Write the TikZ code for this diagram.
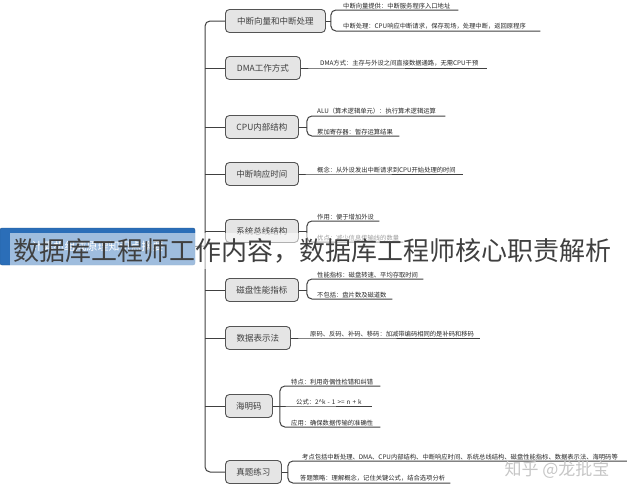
\documentclass[tikz,border=0pt]{standalone}
\usepackage{fontspec}
\setmainfont{Noto Sans CJK SC}
\usepackage{tikz}
\usetikzlibrary{positioning}
\definecolor{RootBlue}{rgb}{0.17, 0.43, 0.72}
\definecolor{TopicFill}{rgb}{0.9, 0.9, 0.9}
\definecolor{TopicLine}{rgb}{0.33, 0.33, 0.33}
\definecolor{LinkLine}{rgb}{0.25, 0.25, 0.25}

\tikzset{
  topic/.style={draw=TopicLine, fill=TopicFill, rounded corners=4pt, line width=0.9pt,
    minimum height=23pt, anchor=west, inner sep=0pt, font=\fontsize{8.5}{9}\selectfont, text=black!75},
  leaf/.style={anchor=south west, inner xsep=0pt, inner ysep=1.2pt, align=left,
    font=\fontsize{6.3}{7}\selectfont, text=black!85},
  link/.style={draw=LinkLine, line width=1pt, rounded corners=5pt},
}

\begin{document}
\begin{tikzpicture}[x=1pt, y=-1pt]
	\useasboundingbox (0,0) rectangle (627,490);
	% topics
	\node[topic, minimum width=100pt] (n1) at (225,21) {中断向量和中断处理};
	\node[topic, minimum width=75pt]  (n2) at (225,68) {DMA工作方式};
	\node[topic, minimum width=73pt]  (n3) at (225,127) {CPU内部结构};
	\node[topic, minimum width=73pt]  (n4) at (225,174) {中断响应时间};
	\node[topic, minimum width=73pt]  (n5) at (225,231) {系统总线结构};
	\node[topic, minimum width=73pt]  (n6) at (225,290) {磁盘性能指标};
	\node[topic, minimum width=65pt]  (n7) at (225,338) {数据表示法};
	\node[topic, minimum width=47pt]  (n8) at (225,406) {海明码};
	\node[topic, minimum width=56pt]  (n9) at (225,472) {真题练习};
	\coordinate[right=5pt of n1.east] (b1);
	\coordinate[right=8pt of n3.east] (b3);
	\coordinate[right=8pt of n5.east] (b5);
	\coordinate[right=8pt of n6.east] (b6);
	\coordinate[right=7pt of n8.east] (b8);
	\coordinate[right=6pt of n9.east] (b9);
	% leaves
	\node[leaf, text width=115pt] (l1a) at (343,10) {中断向量提供：中断服务程序入口地址};
	\node[leaf, text width=197pt] (l1b) at (343,31) {中断处理：CPU响应中断请求，保存现场，处理中断，返回原程序};
	\node[leaf, text width=167pt] (l2)  at (320,68) {DMA方式：主存与外设之间直接数据通路，无需CPU干预};
	\node[leaf, text width=128pt] (l3a) at (317,116) {ALU（算术逻辑单元）：执行算术逻辑运算};
	\node[leaf, text width=82pt]  (l3b) at (317,136) {累加寄存器：暂存运算结果};
	\node[leaf, text width=146pt] (l4)  at (317,174) {概念：从外设发出中断请求到CPU开始处理的时间};
	\node[leaf, text width=62pt]  (l5a) at (317,221) {作用：便于增加外设};
	\node[leaf, text width=86pt]  (l5b) at (317,242) {优点：减少信息传输线的数量};
	\node[leaf, text width=106pt] (l6a) at (317,279) {性能指标：磁盘转速、平均存取时间};
	\node[leaf, text width=75pt]  (l6b) at (317,299) {不包括：盘片数及磁道数};
	\node[leaf, text width=170pt] (l7)  at (310,338) {原码、反码、补码、移码：加减带编码相同的是补码和移码};
	\node[leaf, text width=89pt]  (l8a) at (291,386) {特点：利用奇偶性检错和纠错};
	\node[leaf, text width=76pt]  (l8b) at (296,406) {公式：2\textasciicircum k - 1 >= n + k};
	\node[leaf, text width=89pt]  (l8c) at (291,427) {应用：确保数据传输的准确性};
	\node[leaf, text width=325pt] (l9a) at (302,461) {考点包括中断处理、DMA、CPU内部结构、中断响应时间、系统总线结构、磁盘性能指标、数据表示法、海明码等};
	\node[leaf, text width=150pt] (l9b) at (300,483) {答题策略：理解概念，记住关键公式，结合选项分析};
	% spine
	\coordinate (sp) at (205,246);
	\draw[link] (n1.west) -| (sp) |- (n9.west);
	\foreach \i in {2,...,8}
		\draw[link] (n\i.west) -- (n\i.west -| sp);
	% branches
	\draw[link] (n1.east) -- (b1);
	\draw[link] (b1) |- (l1a.south west) -- (l1a.south east);
	\draw[link] (b1) |- (l1b.south west) -- (l1b.south east);
	\draw[link] (n2.east) -- (l2.south west) -- (l2.south east);
	\draw[link] (n3.east) -- (b3);
	\draw[link] (b3) |- (l3a.south west) -- (l3a.south east);
	\draw[link] (b3) |- (l3b.south west) -- (l3b.south east);
	\draw[link] (n4.east) -- (l4.south west) -- (l4.south east);
	\draw[link] (n5.east) -- (b5);
	\draw[link] (b5) |- (l5a.south west) -- (l5a.south east);
	\draw[link] (b5) |- (l5b.south west) -- (l5b.south east);
	\draw[link] (n6.east) -- (b6);
	\draw[link] (b6) |- (l6a.south west) -- (l6a.south east);
	\draw[link] (b6) |- (l6b.south west) -- (l6b.south east);
	\draw[link] (n7.east) -- (l7.south west) -- (l7.south east);
	\draw[link] (n8.east) -- (b8);
	\draw[link] (b8) |- (l8a.south west) -- (l8a.south east);
	\draw[link] (b8) -- (l8b.south west) -- (l8b.south east);
	\draw[link] (b8) |- (l8c.south west) -- (l8c.south east);
	\draw[link] (n9.east) -- (b9);
	\draw[link] (b9) |- (l9a.south west) -- (l9a.south east);
	\draw[link] (b9) |- (l9b.south west) -- (l9b.south east);
	% root and caption
	\node[draw=RootBlue!80!black, fill=RootBlue, rounded corners=2pt, minimum width=195pt,
		minimum height=37pt, inner sep=0pt, text=white, font=\fontsize{11}{12}\selectfont]
		(root) at (97.5,246.5) {计算机组成原理知识点摘要};
	\draw[link] (root.east) -- (sp);
	\node[fill=white, fill opacity=0.55, text opacity=1, minimum width=605pt, minimum height=36pt,
		inner sep=0pt, font=\fontsize{26}{26}\selectfont, text=black!75]
		(caption) at (312.5,251) {数据库工程师工作内容，数据库工程师核心职责解析};
	\node[font=\fontsize{17}{17}\selectfont, text=gray!45] (mark) at (557,470) {知乎 @龙批宝};
\end{tikzpicture}
\end{document}
